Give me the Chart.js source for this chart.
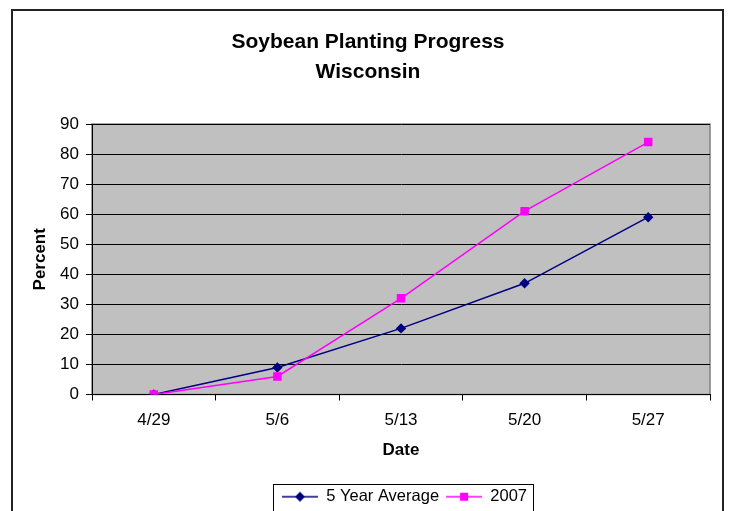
<!DOCTYPE html>
<html>
<head>
<meta charset="utf-8">
<script src="https://cdn.jsdelivr.net/npm/chart.js@4/dist/chart.umd.min.js"></script>
<style>
	html, body { margin: 0; padding: 0; background: #fff; }
	#wrap { width: 730px; height: 511px; }
</style>
</head>
<body>
<div id="wrap"><canvas id="progressChart" width="730" height="511"></canvas></div>
<script>
const dates = ['4/29', '5/6', '5/13', '5/20', '5/27'];
const fiveYearAvg = [0, 9, 22, 37, 59];
const year2007 = [0, 6, 32, 61, 84];
const yMin = 0;
const yMax = 90;
const yStep = 10;

const FONT = 'Arial, "Liberation Sans", sans-serif';

// small canvas used as legend symbol: blank gap, then line with marker in the middle
function legendSymbol(color, shape) {
	let c = document.createElement('canvas');
	c.width = 43;
	c.height = 12;
	let g = c.getContext('2d');
	g.strokeStyle = color;
	g.lineWidth = 1.5;
	g.beginPath();
	g.moveTo(7, 6);
	g.lineTo(43, 6);
	g.stroke();
	g.fillStyle = color;
	g.beginPath();
	if (shape === 'diamond') {
		g.moveTo(25, 1);
		g.lineTo(30, 6);
		g.lineTo(25, 11);
		g.lineTo(20, 6);
		g.closePath();
	} else {
		g.rect(21, 2, 8, 8);
	}
	g.fill();
	return c;
}

const frame = {
	id: 'frame',
	beforeDraw(chart) {
		let ctx = chart.ctx;
		let a = chart.chartArea;
		ctx.save();
		ctx.fillStyle = '#fff';
		ctx.fillRect(0, 0, chart.width, chart.height);
		ctx.strokeStyle = '#222';
		ctx.lineWidth = 2;
		ctx.strokeRect(12, 10, 711, 520);
		ctx.fillStyle = '#c0c0c0';
		ctx.fillRect(a.left, a.top, a.right - a.left, a.bottom - a.top);
		ctx.strokeStyle = '#808080';
		ctx.lineWidth = 1.5;
		ctx.strokeRect(a.left, a.top, a.right - a.left, a.bottom - a.top);
		ctx.restore();
	},
	afterDraw(chart) {
		// border round the legend items
		let boxes = chart.legend.legendHitBoxes;
		if (!boxes || !boxes.length) return;
		let l = Math.min(...boxes.map(b => b.left)) - 2;
		let r = Math.max(...boxes.map(b => b.left + b.width)) + 6;
		let t = Math.min(...boxes.map(b => b.top)) - 5;
		let ctx = chart.ctx;
		ctx.save();
		ctx.strokeStyle = '#000';
		ctx.lineWidth = 1;
		ctx.strokeRect(Math.round(l) + 0.5, Math.round(t) + 0.5, Math.round(r - l), 40);
		ctx.restore();
	}
};

new Chart(document.getElementById('progressChart'), {
	type: 'line',
	data: {
		labels: dates,
		datasets: [
			{
				label: '5 Year Average',
				data: fiveYearAvg,
				borderColor: '#000080',
				backgroundColor: '#000080',
				borderWidth: 1.5,
				pointStyle: 'rectRot',
				pointRadius: 5.2,
				pointBorderWidth: 0,
				tension: 0,
				order: 1,
			},
			{
				label: '2007',
				data: year2007,
				borderColor: '#ff00ff',
				backgroundColor: '#ff00ff',
				borderWidth: 1.5,
				pointStyle: 'rect',
				pointRadius: 6,
				pointBorderWidth: 0,
				tension: 0,
				order: 0,
			},
		],
	},
	options: {
		responsive: false,
		animation: false,
		devicePixelRatio: 1,
		layout: { padding: { top: 0, right: 20, bottom: -4, left: 26 } },
		font: { family: FONT },
		scales: {
			x: {
				offset: true,
				grid: { display: true, offset: true, drawOnChartArea: false, tickLength: 6, color: '#000' },
				border: { color: '#000', width: 1 },
				ticks: { color: '#000', padding: 10, font: { family: FONT, size: 17 }, maxRotation: 0 },
				title: {
					display: true,
					text: 'Date',
					color: '#000',
					font: { family: FONT, size: 17, weight: 'bold' },
					padding: { top: 10, bottom: 28 },
				},
				afterFit(scale) {
					scale.height = 94;
				},
			},
			y: {
				min: yMin,
				max: yMax,
				grid: { color: '#000', tickLength: 6 },
				border: { color: '#000', width: 1 },
				ticks: { stepSize: yStep, color: '#000', padding: 7, font: { family: FONT, size: 17 } },
				title: {
					display: true,
					text: 'Percent',
					color: '#000',
					font: { family: FONT, size: 17, weight: 'bold' },
					padding: { top: 4, bottom: 0 },
				},
				afterFit(scale) {
					scale.width = 66;
				},
			},
		},
		plugins: {
			title: {
				display: true,
				text: ['Soybean Planting Progress', 'Wisconsin'],
				color: '#000',
				font: { family: FONT, size: 21, weight: 'bold', lineHeight: 1.43 },
				padding: { top: 27, bottom: 37 },
			},
			legend: {
				position: 'bottom',
				fullSize: false,
				labels: {
					color: '#000',
					font: { family: FONT, size: 16.5 },
					padding: 0,
					usePointStyle: true,
					pointStyleWidth: 43,
					generateLabels(chart) {
						return chart.data.datasets.map((ds, i) => ({
							text: ds.label,
							fillStyle: ds.borderColor,
							strokeStyle: ds.borderColor,
							fontColor: '#000',
							lineWidth: 0,
							pointStyle: legendSymbol(ds.borderColor, i === 0 ? 'diamond' : 'square'),
							hidden: false,
							datasetIndex: i,
						}));
					},
				},
			},
			tooltip: { enabled: false },
		},
	},
	plugins: [frame],
});
</script>
</body>
</html>
